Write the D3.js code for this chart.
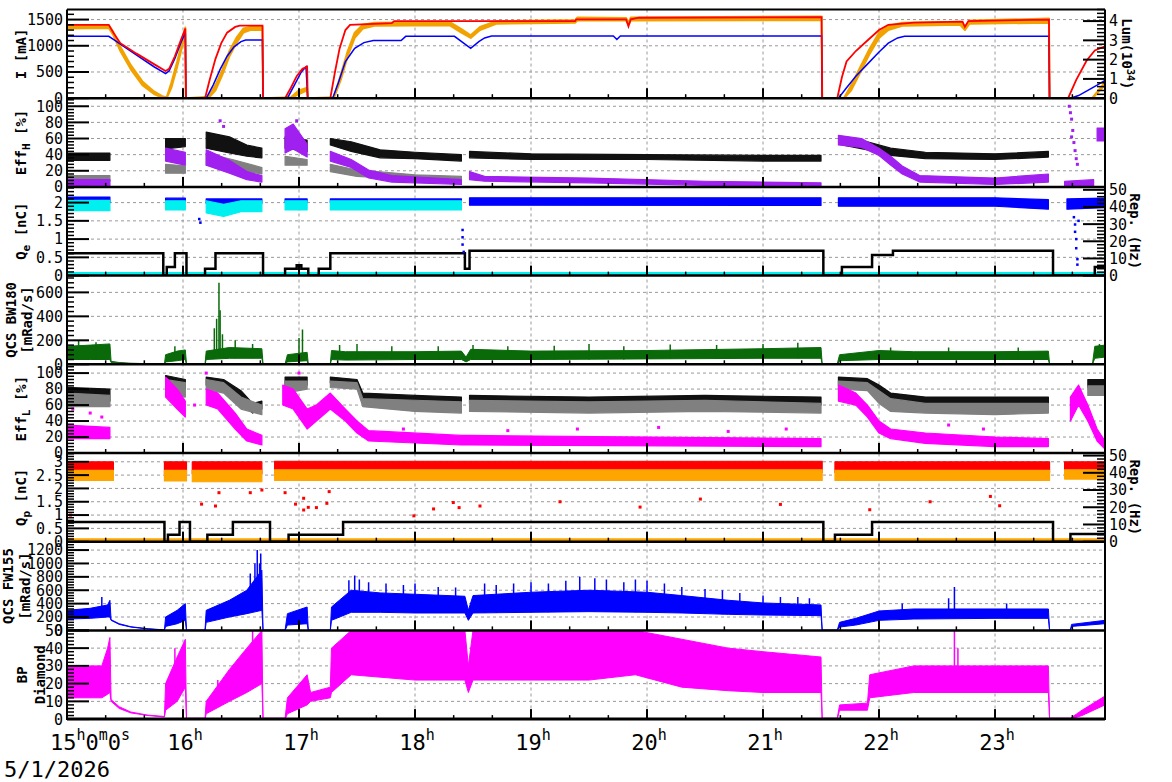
<!DOCTYPE html>
<html><head><meta charset="utf-8">
<script src="https://cdn.jsdelivr.net/npm/d3@7"></script>
<style>
body{margin:0;background:#fff;}
svg{display:block;font-family:"DejaVu Sans Mono",monospace;}
</style></head><body>
<svg id="c" width="1172" height="782"></svg>
<script>
// ---------------- DATA (time in decimal hours, 5/1/2026) ----------------
const hours = [15,16,17,18,19,20,21,22,23];
const dateLabel = "5/1/2026";

// Panel 1: beam currents [mA] and luminosity (plotted on mA scale)
const herCurrent = [[15.00,1400],[15.36,1400],[15.40,1250],[15.46,1050],[15.60,850],[15.75,650],[15.85,520],[15.88,560],[15.93,800],[15.98,1100],[16.02,1330],[16.025,0],[16.19,0],[16.23,350],[16.28,750],[16.33,1050],[16.38,1250],[16.45,1360],[16.49,1385],[16.685,1385],[16.69,0],[16.88,0],[16.93,200],[16.98,420],[17.03,560],[17.07,600],[17.075,0],[17.27,0],[17.31,500],[17.35,950],[17.40,1300],[17.44,1400],[17.80,1430],[17.82,1470],[19.38,1470],[19.39,1505],[19.82,1505],[19.84,1370],[19.86,1505],[19.93,1535],[21.505,1545],[21.51,0],[21.64,0],[21.68,400],[21.72,700],[21.80,900],[21.90,1100],[22.00,1300],[22.08,1400],[22.30,1440],[22.72,1460],[22.74,1360],[22.77,1470],[23.465,1500],[23.47,0],[23.63,0],[23.70,350],[23.79,720],[23.86,910],[23.948,990]];
const lumCurve = [[15.00,1180],[15.36,1180],[15.40,1120],[15.46,1030],[15.60,820],[15.75,600],[15.85,470],[15.88,520],[15.93,760],[15.98,1050],[16.02,1250],[16.025,0],[16.20,0],[16.26,250],[16.32,550],[16.38,800],[16.44,980],[16.50,1080],[16.54,1110],[16.685,1110],[16.69,0],[16.90,0],[16.96,250],[17.02,500],[17.06,600],[17.075,0],[17.29,0],[17.34,300],[17.40,700],[17.48,950],[17.56,1060],[17.64,1100],[17.88,1100],[17.92,1180],[18.34,1180],[18.48,950],[18.55,1080],[18.60,1150],[18.66,1185],[19.71,1185],[19.74,1120],[19.77,1185],[21.505,1185],[21.51,0],[21.65,0],[21.72,200],[21.80,420],[21.90,650],[22.00,880],[22.08,1050],[22.16,1150],[22.22,1180],[23.465,1180],[23.47,0],[23.65,0],[23.72,50],[23.80,150],[23.88,250],[23.948,340]];
const lerCurrent = [[15.00,1330,1390],[15.36,1340,1390],[15.40,1200,1260],[15.46,900,980],[15.55,550,630],[15.65,250,320],[15.75,80,130],[15.82,10,40],[15.86,0,20],[15.90,200,300],[15.95,600,700],[16.00,1050,1150],[16.02,1280,1350],[16.025,0,0],[16.22,0,30],[16.28,150,250],[16.34,450,550],[16.40,800,900],[16.46,1050,1150],[16.52,1250,1330],[16.58,1300,1360],[16.685,1300,1370],[16.69,0,0],[16.93,0,20],[17.00,80,150],[17.07,150,200],[17.075,0,0],[17.30,0,20],[17.36,350,450],[17.42,800,900],[17.48,1150,1250],[17.55,1330,1400],[17.65,1380,1440],[18.30,1390,1450],[18.40,1250,1320],[18.48,1150,1200],[18.56,1300,1360],[18.70,1420,1470],[19.38,1440,1490],[19.40,1480,1540],[19.82,1480,1530],[19.84,1400,1440],[19.86,1480,1540],[21.505,1490,1560],[21.51,0,0],[21.70,0,10],[21.76,150,250],[21.84,500,600],[21.92,850,950],[22.00,1150,1250],[22.08,1300,1380],[22.20,1380,1440],[22.70,1400,1460],[22.74,1300,1360],[22.78,1420,1480],[23.465,1440,1520],[23.47,0,0],[23.84,0,10],[23.948,250,300]];

// Panel 2: EffH [%]  [t, low, high], null = gap
const effHBlack = [[15.00,33,42],[15.37,33,42],[15.38,null,null],[15.85,47,60],[16.02,50,60],[16.03,null,null],[16.20,48,68],[16.40,42,62],[16.55,38,52],[16.68,36,48],[16.69,null,null],[16.88,48,62],[17.07,44,58],[17.08,null,null],[17.27,52,60],[17.45,44,56],[17.70,36,46],[18.00,35,43],[18.40,32,40],[18.42,null,null],[18.47,36,44],[19.00,34,41],[20.00,34,40],[21.00,32,39],[21.50,32,39],[21.51,null,null],[21.68,52,60],[21.90,46,56],[22.10,39,48],[22.40,35,43],[23.00,34,41],[23.46,37,44]];
const effHGray = [[15.00,7,14],[15.37,7,14],[15.38,null,null],[15.85,17,28],[16.02,17,26],[16.03,null,null],[16.20,27,42],[16.45,22,33],[16.68,16,24],[16.69,null,null],[16.88,27,38],[17.07,27,34],[17.08,null,null],[17.27,19,28],[17.50,13,21],[18.00,9,15],[18.40,7,13]];
const effHPurple = [[15.00,1,9],[15.37,1,9],[15.38,null,null],[15.85,32,48],[16.02,27,43],[16.03,null,null],[16.20,27,46],[16.40,17,33],[16.55,9,19],[16.68,6,14],[16.69,null,null],[16.88,42,72],[16.95,47,78],[17.07,37,53],[17.08,null,null],[17.27,32,44],[17.45,24,34],[17.60,11,21],[17.80,6,14],[18.40,3,9],[18.42,null,null],[18.47,9,19],[18.60,7,13],[19.50,5,11],[20.50,2,7],[21.50,1,5],[21.51,null,null],[21.65,52,64],[21.85,49,60],[22.00,39,48],[22.10,27,38],[22.20,16,26],[22.35,6,14],[23.00,3,11],[23.46,6,16],[23.47,null,null],[23.60,1,7],[23.85,1,9],[23.86,null,null],[23.88,57,73],[23.948,57,73]];
const effHPurpleOut = [[23.64,100],[23.65,92],[23.66,84],[23.67,70],[23.68,55],[23.69,45],[23.70,35],[23.71,28],[23.66,62],[16.32,82],[16.35,75],[16.98,82]];

// Panel 3: Qe [nC] and e- rep. rate [Hz]
const qeBlue = [[15.00,2.0,2.15],[15.37,2.0,2.15],[15.38,null,null],[15.85,2.0,2.12],[16.02,2.0,2.12],[16.03,null,null],[16.20,1.98,2.1],[16.68,1.98,2.1],[16.69,null,null],[16.88,2.0,2.1],[17.07,2.0,2.1],[17.08,null,null],[17.27,2.0,2.1],[18.40,2.0,2.1],[18.42,null,null],[18.47,1.93,2.13],[21.50,1.92,2.13],[21.51,null,null],[21.65,1.9,2.13],[23.00,1.9,2.13],[23.46,1.82,2.08],[23.47,null,null],[23.62,1.82,2.1],[23.948,1.86,2.12]];
const qeCyan = [[15.00,1.78,2.06],[15.37,1.78,2.06],[15.38,null,null],[15.85,1.8,2.05],[16.02,1.8,2.05],[16.03,null,null],[16.20,1.72,2.05],[16.35,1.62,1.95],[16.50,1.75,2.05],[16.68,1.75,2.05],[16.69,null,null],[16.88,1.8,2.05],[17.07,1.8,2.05],[17.08,null,null],[17.27,1.8,2.05],[18.40,1.8,2.05]];
const qeOutliers = [[18.41,1.25],[18.41,1.05],[18.41,0.85],[18.42,0.65],[23.68,1.6],[23.69,1.4],[23.69,1.2],[23.70,1.0],[23.70,0.75],[23.71,0.45],[23.71,0.3],[23.72,1.5],[16.14,1.55],[16.15,1.45]];
const qeRep = [[15.00,13],[15.83,0],[15.86,5],[15.93,13],[16.03,0],[16.19,4],[16.28,13],[16.69,0],[16.88,4],[16.98,6],[17.02,4],[17.08,0],[17.17,4],[17.27,13],[18.43,4],[18.47,14.5],[21.52,0],[21.68,5],[21.94,12],[22.12,14.5],[23.50,0],[23.86,5],[23.948,5]];
const qeRepCyan = [[15.00,0],[23.948,0]];

// Panel 4: QCS BW180 [mRad/s]
const bw180 = [[15.00,40,150],[15.20,40,160],[15.37,40,170],[15.38,15,25],[15.45,10,15],[15.55,6,9],[15.70,3,5],[15.84,1,2],[15.85,20,80],[15.95,30,110],[16.02,40,120],[16.03,0,3],[16.19,0,3],[16.20,40,110],[16.40,50,140],[16.68,50,130],[16.69,0,3],[16.88,0,3],[16.90,20,80],[17.07,30,100],[17.08,0,3],[17.27,0,3],[17.28,40,115],[17.40,35,105],[18.00,40,105],[18.40,40,110],[18.44,20,60],[18.48,40,125],[19.00,40,110],[20.00,45,115],[21.00,50,130],[21.50,50,140],[21.51,0,3],[21.64,0,3],[21.66,30,80],[22.00,40,115],[22.30,40,105],[23.00,40,105],[23.46,40,110],[23.47,0,3],[23.84,0,3],[23.86,50,150],[23.948,60,160]];
const bw180Spikes = [[15.10,40,200],[15.25,40,185],[15.93,30,150],[16.27,50,300],[16.29,50,380],[16.31,50,680],[16.32,50,450],[16.34,50,250],[16.45,50,200],[16.60,50,170],[17.00,30,220],[17.03,30,290],[17.35,40,160],[17.50,40,170],[17.80,40,150],[18.20,40,150],[18.50,40,160],[18.80,40,150],[19.20,40,155],[19.50,40,170],[19.80,40,150],[20.20,45,165],[20.60,45,160],[21.00,50,170],[21.30,50,180],[22.10,40,140],[22.60,40,140],[23.20,40,140],[23.90,60,170]];

// Panel 5: EffL [%]
const effLBlack = [[15.00,68,82],[15.37,65,80],[15.38,null,null],[15.85,85,97],[16.02,80,92],[16.03,null,null],[16.20,85,95],[16.35,80,92],[16.50,65,78],[16.60,50,62],[16.68,55,65],[16.69,null,null],[16.88,80,95],[17.07,85,95],[17.08,null,null],[17.27,88,95],[17.50,85,92],[17.55,65,75],[18.00,60,72],[18.40,58,70],[18.42,null,null],[18.47,62,72],[19.50,60,70],[20.50,62,72],[21.50,60,70],[21.51,null,null],[21.65,85,95],[21.90,83,93],[22.00,70,85],[22.10,60,75],[22.40,58,70],[23.00,58,70],[23.46,58,70],[23.47,null,null],[23.80,82,92],[23.948,82,92]];
const effLGray = [[15.00,58,75],[15.37,58,72],[15.38,null,null],[15.85,75,92],[16.02,70,88],[16.03,null,null],[16.20,80,92],[16.35,75,88],[16.50,55,70],[16.68,48,60],[16.69,null,null],[16.88,75,90],[17.07,80,90],[17.08,null,null],[17.27,82,90],[17.50,80,88],[17.55,58,68],[18.00,52,66],[18.40,50,64],[18.42,null,null],[18.47,52,66],[19.50,50,64],[20.50,52,66],[21.50,50,62],[21.51,null,null],[21.65,80,90],[21.90,78,88],[22.00,62,78],[22.10,52,68],[22.40,50,62],[23.00,48,62],[23.46,50,62],[23.47,null,null],[23.80,72,84],[23.948,72,84]];
const effLMagenta = [[15.00,18,35],[15.37,18,32],[15.38,null,null],[15.85,70,95],[15.95,55,80],[16.02,45,65],[16.03,null,null],[16.20,60,80],[16.30,55,75],[16.45,30,50],[16.55,15,30],[16.68,10,22],[16.69,null,null],[16.86,60,85],[16.95,55,80],[17.07,30,55],[17.15,40,60],[17.27,55,75],[17.40,40,55],[17.50,25,40],[17.60,15,28],[18.40,10,22],[18.47,10,22],[21.50,8,18],[21.51,null,null],[21.65,65,85],[21.80,60,75],[21.90,45,60],[22.00,25,40],[22.10,18,30],[22.40,12,25],[23.00,8,20],[23.46,8,18],[23.47,null,null],[23.65,40,70],[23.72,60,85],[23.80,40,60],[23.88,15,30],[23.948,5,15]];
const effLOutliers = [[15.05,55],[15.20,50],[15.30,45],[17.9,30],[18.8,28],[19.4,30],[20.1,32],[20.7,27],[21.2,30],[22.6,35],[22.9,30],[16.1,60],[16.2,100],[17.0,100]];

// Panel 6: Qp [nC] and e+ rep. rate [Hz]
const qpRed = [[15.00,2.6,3.0],[15.40,2.6,3.0],[15.41,null,null],[15.84,2.55,3.0],[16.03,2.55,3.0],[16.04,null,null],[16.08,2.55,3.0],[16.68,2.55,3.0],[16.69,null,null],[16.79,2.6,3.02],[21.51,2.6,3.02],[21.52,null,null],[21.62,2.6,3.0],[23.47,2.6,3.0],[23.48,null,null],[23.60,2.65,3.0],[23.948,2.65,3.0]];
const qpOrange = [[15.00,2.3,2.68],[15.40,2.3,2.68],[15.41,null,null],[15.84,2.28,2.68],[16.03,2.28,2.68],[16.04,null,null],[16.08,2.25,2.68],[16.68,2.25,2.68],[16.69,null,null],[16.79,2.3,2.7],[21.51,2.3,2.7],[21.52,null,null],[21.62,2.3,2.68],[23.47,2.3,2.68],[23.48,null,null],[23.60,2.35,2.7],[23.948,2.35,2.7]];
const qpOutliers = [[15.03,1.0],[16.16,1.41],[16.28,1.34],[16.31,1.84],[16.58,1.84],[16.68,1.94],[16.88,1.84],[16.97,1.41],[17.04,1.63],[17.04,1.19],[17.08,1.29],[17.15,1.28],[17.24,1.44],[17.26,1.88],[17.99,0.97],[18.16,1.23],[18.33,1.47],[18.38,1.28],[18.56,1.34],[19.25,1.5],[19.94,1.3],[20.46,1.6],[21.15,1.4],[21.92,1.2],[22.44,1.5],[22.96,1.7],[23.04,1.35]];
const qpRep = [[15.00,11.5],[15.84,0],[15.87,4],[15.97,11.5],[16.06,0],[16.21,4],[16.43,11.5],[16.75,0],[16.91,4],[17.38,11.5],[21.52,0],[21.62,4],[21.94,11.5],[23.50,0],[23.65,4.5],[23.948,4.5]];
const qpRepOrange = [[15.00,0],[23.948,0]];

// Panel 7: QCS FW155 [mRad/s]
const fw155 = [[15.00,170,300],[15.20,180,330],[15.35,200,380],[15.37,200,450],[15.38,150,160],[15.45,90,100],[15.55,50,55],[15.70,20,25],[15.84,5,8],[15.85,60,200],[15.95,100,300],[16.02,150,400],[16.03,0,5],[16.19,0,5],[16.20,120,300],[16.40,200,450],[16.55,250,600],[16.68,300,900],[16.69,0,5],[16.88,0,5],[16.90,80,250],[17.07,100,350],[17.08,0,5],[17.27,0,5],[17.28,150,350],[17.45,270,600],[17.70,270,560],[18.00,260,540],[18.43,260,510],[18.46,150,300],[18.50,260,520],[19.00,270,570],[19.50,280,600],[20.00,270,570],[20.30,260,520],[20.70,240,450],[21.00,230,410],[21.50,220,380],[21.51,0,5],[21.64,0,5],[21.66,50,120],[21.80,80,180],[22.00,150,290],[22.30,170,320],[23.00,180,320],[23.46,180,320],[23.47,0,5],[23.65,0,5],[23.66,60,90],[23.948,100,150]];
const fw155Spikes = [[15.30,200,500],[16.58,300,850],[16.62,300,1000],[16.64,300,1200],[16.66,300,1000],[16.67,300,1150],[17.43,280,750],[17.48,280,820],[17.52,280,760],[17.60,280,720],[17.75,280,700],[17.90,270,680],[18.00,260,700],[18.20,260,650],[18.35,260,640],[18.60,260,700],[18.70,260,680],[18.85,270,700],[19.00,270,720],[19.15,270,700],[19.30,280,740],[19.42,280,800],[19.55,280,780],[19.65,280,760],[19.80,280,720],[19.90,270,760],[20.00,270,740],[20.15,270,700],[20.30,260,650],[20.50,250,620],[20.65,240,600],[20.80,240,560],[21.00,230,520],[21.15,230,500],[21.30,230,500],[21.40,220,480],[22.20,170,400],[22.60,180,480],[22.65,180,650],[23.10,180,400]];

// Panel 8: BP Diamond
const bpDiamond = [[15.00,12,30],[15.30,12,30],[15.35,14,40],[15.37,15,46],[15.38,10,11],[15.45,6,7],[15.55,3.5,4],[15.70,2,2.2],[15.84,1.2,1.5],[15.85,5,20],[15.95,10,35],[16.02,18,45],[16.03,0,0.5],[16.19,0,0.5],[16.20,3,10],[16.40,10,28],[16.55,15,40],[16.68,20,50],[16.69,0,0.5],[16.88,0,0.5],[16.90,3,12],[17.07,8,25],[17.10,10,15],[17.27,12,18],[17.28,15,40],[17.45,25,50],[18.00,22,50],[18.43,22,50],[18.46,15,30],[18.50,22,50],[19.50,22,50],[19.90,25,50],[20.30,18,45],[20.70,16,40],[21.00,15,38],[21.50,15,35],[21.51,0,0.5],[21.64,0,0.5],[21.66,5,8],[21.90,5,9],[21.92,12,25],[22.30,15,30],[23.00,15,30],[23.46,15,30],[23.47,0,0.5],[23.65,0,0.5],[23.75,2,5],[23.948,8,13]];
const bpSpikes = [[22.65,20,50],[22.68,20,40],[16.30,8,22],[16.60,20,50],[15.93,10,40]];

// ---------------- LAYOUT / STYLE ----------------
const TMIN = 15, TMAX = 23.948;
const L = 67, R = 1105, T = 9.5, PH = 88.7, NP = 8, B = T + NP*PH;
const svg = d3.select('#c');
const x = d3.scaleLinear().domain([TMIN, TMAX]).range([L, R]);

const fmtNum = d => (Math.round(d*10)/10).toString();
const panels = [
  {dom:[0,1692], major:d3.range(0,1501,500), minor:100, title:[["I [mA]"]], tx:[21],
   right:{dom:[0,4.6], major:[0,1,2,3,4], minor:0.2, title:"lum"}},
  {dom:[0,110], major:d3.range(0,101,20), minor:4, title:[["Eff","H"," [%]"]], tx:[21]},
  {dom:[0,2.43], major:[0,0.5,1,1.5,2], minor:0.1, title:[["Q","e"," [nC]"]], tx:[21],
   right:{dom:[0,51.7], major:d3.range(0,51,10), minor:2, title:"rep"}},
  {dom:[0,740], major:[0,200,400,600], minor:40, title:[["QCS BW180"],["[mRad/s]"]], tx:[11,27]},
  {dom:[0,111], major:d3.range(0,101,20), minor:4, title:[["Eff","L"," [%]"]], tx:[21]},
  {dom:[0,3.33], major:[0,0.5,1,1.5,2,2.5,3], minor:0.1, title:[["Q","p"," [nC]"]], tx:[21],
   right:{dom:[0,51.5], major:d3.range(0,51,10), minor:2, title:"rep"}},
  {dom:[0,1325], major:d3.range(0,1201,200), minor:40, title:[["QCS FW155"],["[mRad/s]"]], tx:[8,25]},
  {dom:[0,50], major:d3.range(0,51,10), minor:2, title:[["BP"],["Diamond"]], tx:[22,40]},
];
panels.forEach((p,i)=>{
  p.top = T + i*PH; p.bot = T + (i+1)*PH;
  p.y = d3.scaleLinear().domain(p.dom).range([p.bot, p.top]);
  if (p.right) p.yr = d3.scaleLinear().domain(p.right.dom).range([p.bot, p.top]);
});

const defs = svg.append('defs');
panels.forEach((p,i)=>{
  defs.append('clipPath').attr('id','clip'+i).append('rect')
    .attr('x',L).attr('y',p.top).attr('width',R-L).attr('height',PH);
});

// grid
const grid = svg.append('g').attr('stroke','#999').attr('stroke-width',1).attr('stroke-dasharray','3,3');
hours.filter(h=>h>TMIN).forEach(h=>{
  grid.append('line').attr('x1',x(h)).attr('x2',x(h)).attr('y1',T).attr('y2',B);
});
panels.forEach(p=>{
  p.major.forEach(v=>{
    const yy = p.y(v);
    if (yy < p.bot-2 && yy > p.top+2)
      grid.append('line').attr('x1',L).attr('x2',R).attr('y1',yy).attr('y2',yy);
  });
});

// helpers
function band(g, y, data, color, sw){
  const a = d3.area().defined(d=>d[1]!==null).x(d=>x(d[0])).y0(d=>y(d[1])).y1(d=>y(d[2]));
  g.append('path').datum(data).attr('d',a).attr('fill',color)
    .attr('stroke',color).attr('stroke-width',sw||1.2).attr('stroke-linejoin','round');
}
function line(g, y, data, color, w, curve){
  const l = d3.line().x(d=>x(d[0])).y(d=>y(d[1])).curve(curve||d3.curveLinear);
  g.append('path').datum(data).attr('d',l).attr('fill','none').attr('stroke',color).attr('stroke-width',w);
}
function spikes(g, y, data, color){
  g.selectAll(null).data(data).enter().append('line')
    .attr('x1',d=>x(d[0])).attr('x2',d=>x(d[0])).attr('y1',d=>y(d[1])).attr('y2',d=>y(d[2]))
    .attr('stroke',color).attr('stroke-width',1.5);
}
function dots(g, y, data, color, s){
  g.selectAll(null).data(data).enter().append('rect')
    .attr('x',d=>x(d[0])-s/2).attr('y',d=>y(d[1])-s/2).attr('width',s).attr('height',s).attr('fill',color);
}

const cg = panels.map((p,i)=>svg.append('g').attr('clip-path',`url(#clip${i})`));
const RED='#ff0000', ORANGE='#f2a200', BLUE='#0000ff', PURPLE='#a020f0', GRAY='#808080',
      CYAN='#00f0f0', MAGENTA='#ff00ff', GREEN='#0a6a0a', BLACK='#000';

// panel 1
band(cg[0], panels[0].y, lerCurrent, ORANGE, 2);
line(cg[0], panels[0].y, lumCurve, BLUE, 1.5);
line(cg[0], panels[0].y, herCurrent, RED, 1.8);
// panel 2
band(cg[1], panels[1].y, effHBlack, '#111');
band(cg[1], panels[1].y, effHGray, GRAY);
band(cg[1], panels[1].y, effHPurple, PURPLE);
dots(cg[1], panels[1].y, effHPurpleOut, PURPLE, 3);
// panel 3
line(cg[2], panels[2].yr, qeRepCyan, CYAN, 7);
line(cg[2], panels[2].yr, qeRep, BLACK, 2.5, d3.curveStepAfter);
band(cg[2], panels[2].y, qeBlue, BLUE);
band(cg[2], panels[2].y, qeCyan, CYAN);
dots(cg[2], panels[2].y, qeOutliers, BLUE, 2.5);
// panel 4
band(cg[3], panels[3].y, bw180, GREEN, 1);
spikes(cg[3], panels[3].y, bw180Spikes, GREEN);
// panel 5
band(cg[4], panels[4].y, effLBlack, '#111');
band(cg[4], panels[4].y, effLGray, GRAY);
band(cg[4], panels[4].y, effLMagenta, MAGENTA);
dots(cg[4], panels[4].y, effLOutliers, MAGENTA, 3);
// panel 6
line(cg[5], panels[5].yr, qpRepOrange, '#ffa500', 7);
line(cg[5], panels[5].yr, qpRep, BLACK, 2.5, d3.curveStepAfter);
band(cg[5], panels[5].y, qpRed, RED);
band(cg[5], panels[5].y, qpOrange, '#ffa500');
dots(cg[5], panels[5].y, qpOutliers, RED, 3);
// panel 7
band(cg[6], panels[6].y, fw155, BLUE, 1);
spikes(cg[6], panels[6].y, fw155Spikes, BLUE);
// panel 8
band(cg[7], panels[7].y, bpDiamond, MAGENTA, 1);
spikes(cg[7], panels[7].y, bpSpikes, MAGENTA);

// axes & ticks
const ax = svg.append('g').attr('stroke','#000');
const minorHours = d3.range(TMIN, TMAX, 1/3).filter(t=>Math.abs(t-Math.round(t))>0.01);
panels.forEach((p,i)=>{
  p.major.forEach(v=>{ const yy=p.y(v);
    ax.append('line').attr('x1',L).attr('x2',L+22).attr('y1',yy).attr('y2',yy).attr('stroke-width',2); });
  d3.range(p.dom[0], p.dom[1]+1e-9, p.minor).forEach(v=>{
    if (p.major.some(m=>Math.abs(m-v)<1e-6)) return;
    const yy=p.y(v);
    ax.append('line').attr('x1',L).attr('x2',L+7).attr('y1',yy).attr('y2',yy).attr('stroke-width',1.5);
  });
  if (p.right){
    const r=p.right;
    r.major.forEach(v=>{ const yy=p.yr(v);
      ax.append('line').attr('x1',R-22).attr('x2',R).attr('y1',yy).attr('y2',yy).attr('stroke-width',2); });
    d3.range(r.dom[0], r.dom[1]+1e-9, r.minor).forEach(v=>{
      if (r.major.some(m=>Math.abs(m-v)<1e-6)) return;
      const yy=p.yr(v);
      ax.append('line').attr('x1',R-8).attr('x2',R).attr('y1',yy).attr('y2',yy).attr('stroke-width',1.5);
    });
  }
  hours.forEach(h=>{ if (h<=TMIN) return;
    ax.append('line').attr('x1',x(h)).attr('x2',x(h)).attr('y1',p.bot).attr('y2',p.bot-10).attr('stroke-width',2); });
  minorHours.forEach(t=>{
    ax.append('line').attr('x1',x(t)).attr('x2',x(t)).attr('y1',p.bot).attr('y2',p.bot-4).attr('stroke-width',1.5); });
  ax.append('line').attr('x1',L).attr('x2',R).attr('y1',p.bot).attr('y2',p.bot).attr('stroke-width',i===NP-1?3:2.5);
});
ax.append('line').attr('x1',L).attr('x2',R).attr('y1',T).attr('y2',T).attr('stroke-width',2);
ax.append('line').attr('x1',L).attr('x2',L).attr('y1',T).attr('y2',B+1).attr('stroke-width',2);
ax.append('line').attr('x1',R).attr('x2',R).attr('y1',T).attr('y2',B+1).attr('stroke-width',2);

// tick labels
const tl = svg.append('g').attr('font-size',15).attr('fill','#000');
panels.forEach(p=>{
  p.major.forEach(v=>{
    tl.append('text').attr('x',63).attr('y',p.y(v)).attr('dy','0.36em').attr('text-anchor','end').text(fmtNum(v));
  });
  if (p.right) p.right.major.forEach(v=>{
    tl.append('text').attr('x',1109).attr('y',p.yr(v)).attr('dy','0.36em').attr('text-anchor','start').text(fmtNum(v));
  });
});

// y titles
const tt = svg.append('g').attr('font-size',14).attr('font-weight','bold').attr('fill','#000');
panels.forEach(p=>{
  const cy = (p.top+p.bot)/2;
  p.title.forEach((parts,k)=>{
    const t = tt.append('text').attr('transform',`translate(${p.tx[k]},${cy}) rotate(-90)`)
      .attr('text-anchor','middle').attr('dy','0.36em');
    t.append('tspan').text(parts[0]);
    if (parts.length>1){
      t.append('tspan').attr('font-size',11).attr('dy',4).text(parts[1]);
      t.append('tspan').attr('dy',-4).text(parts[2]);
    }
  });
  if (p.right){
    const t = tt.append('text').attr('transform',`translate(${p.right.title==='lum'?1127:1135},${cy}) rotate(90)`)
      .attr('text-anchor','middle').attr('dy','0.36em');
    if (p.right.title==='lum'){
      t.append('tspan').text('Lum(10');
      t.append('tspan').attr('font-size',10).attr('dy',-5).text('34');
      t.append('tspan').attr('dy',5).text(')');
    } else t.text('Rep. (Hz)');
  }
});

// time axis labels
const xl = svg.append('g').attr('font-size',22).attr('fill','#000');
hours.forEach(h=>{
  const t = xl.append('text').attr('y',750);
  if (h===TMIN){
    t.attr('x',50).attr('text-anchor','start');
    t.append('tspan').text(h);
    t.append('tspan').attr('font-size',15).attr('dy',-10).text('h');
    t.append('tspan').attr('dy',10).text('0');
    t.append('tspan').attr('font-size',15).attr('dy',-10).text('m');
    t.append('tspan').attr('dy',10).text('0');
    t.append('tspan').attr('font-size',15).attr('dy',-10).text('s');
  } else {
    t.attr('x',x(h)+2).attr('text-anchor','middle');
    t.append('tspan').text(h);
    t.append('tspan').attr('font-size',15).attr('dy',-10).text('h');
  }
});
svg.append('text').attr('x',4).attr('y',777).attr('font-size',22).attr('fill','#000').text(dateLabel);
</script>
</body></html>
